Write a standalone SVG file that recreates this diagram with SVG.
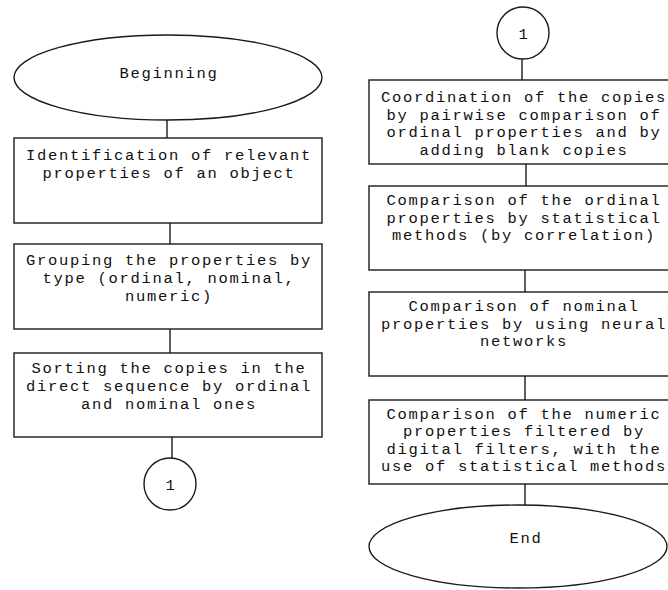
<svg xmlns="http://www.w3.org/2000/svg" width="668" height="590" viewBox="0 0 668 590">
  <style>
    .shape { fill: #ffffff; stroke: #1a1a1a; stroke-width: 1.4; }
    .link { stroke: #1a1a1a; stroke-width: 1.4; fill: none; }
    text { font-family: "Liberation Mono", "Courier New", monospace; font-size: 15.5px; letter-spacing: 1.7px; fill: #111111; text-anchor: middle; }
  </style>
  <rect width="668" height="590" fill="#ffffff"/>

  <!-- connectors -->
  <g id="connectors">
    <line class="link" x1="167" y1="120" x2="167" y2="138"/>
    <line class="link" x1="170" y1="223" x2="170" y2="244"/>
    <line class="link" x1="170" y1="329" x2="170" y2="353"/>
    <line class="link" x1="172" y1="437" x2="172" y2="458"/>
    <line class="link" x1="522" y1="59" x2="522" y2="80"/>
    <line class="link" x1="526" y1="164" x2="526" y2="186"/>
    <line class="link" x1="525" y1="270" x2="525" y2="292"/>
    <line class="link" x1="525" y1="376" x2="525" y2="400"/>
    <line class="link" x1="525" y1="484" x2="525" y2="505"/>
  </g>

  <!-- left column -->
  <g id="start">
    <ellipse class="shape" cx="168" cy="77.5" rx="154" ry="42.5"/>
    <text x="169" y="78">Beginning</text>
  </g>
  <g id="identify">
    <rect class="shape" x="14" y="138" width="308" height="85"/>
    <text x="169" y="160">Identification of relevant</text>
    <text x="169" y="177.5">properties of an object</text>
  </g>
  <g id="group">
    <rect class="shape" x="14" y="244" width="308" height="85"/>
    <text x="169" y="265">Grouping the properties by</text>
    <text x="169" y="283">type (ordinal, nominal,</text>
    <text x="169" y="301">numeric)</text>
  </g>
  <g id="sort">
    <rect class="shape" x="14" y="353" width="308" height="84"/>
    <text x="169" y="373">Sorting the copies in the</text>
    <text x="169" y="391">direct sequence by ordinal</text>
    <text x="169" y="408.5">and nominal ones</text>
  </g>
  <g id="link-out">
    <circle class="shape" cx="170" cy="484" r="26"/>
    <text x="171" y="490">1</text>
  </g>

  <!-- right column -->
  <g id="link-in">
    <circle class="shape" cx="523" cy="33" r="26"/>
    <text x="524" y="39">1</text>
  </g>
  <g id="coordinate">
    <rect class="shape" x="369" y="80" width="308" height="84"/>
    <text x="524" y="102">Coordination of the copies</text>
    <text x="524" y="119.5">by pairwise comparison of</text>
    <text x="524" y="137">ordinal properties and by</text>
    <text x="524" y="154.5">adding blank copies</text>
  </g>
  <g id="ordinal">
    <rect class="shape" x="369" y="186" width="308" height="84"/>
    <text x="524" y="205">Comparison of the ordinal</text>
    <text x="524" y="222.5">properties by statistical</text>
    <text x="524" y="240">methods (by correlation)</text>
  </g>
  <g id="nominal">
    <rect class="shape" x="369" y="292" width="308" height="84"/>
    <text x="524" y="311">Comparison of nominal</text>
    <text x="524" y="328.5">properties by using neural</text>
    <text x="524" y="346">networks</text>
  </g>
  <g id="numeric">
    <rect class="shape" x="369" y="400" width="308" height="84"/>
    <text x="524" y="418.5">Comparison of the numeric</text>
    <text x="524" y="436">properties filtered by</text>
    <text x="524" y="453.5">digital filters, with the</text>
    <text x="524" y="471">use of statistical methods</text>
  </g>
  <g id="end">
    <ellipse class="shape" cx="518" cy="546.5" rx="149" ry="41.5"/>
    <text x="526" y="543">End</text>
  </g>
</svg>
